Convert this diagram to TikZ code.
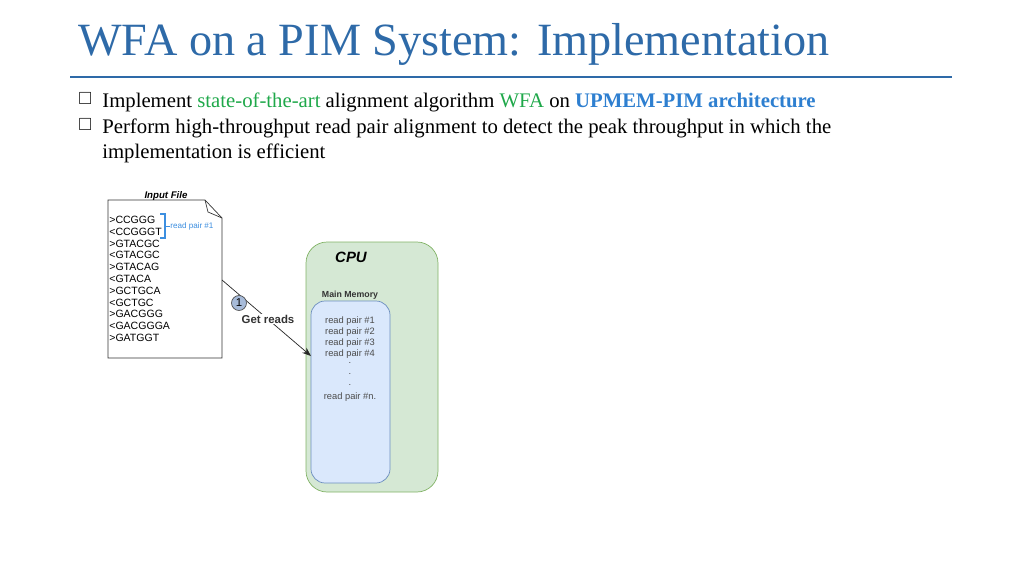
\documentclass[tikz,border=0pt]{standalone}
\usepackage{amssymb}
\usepackage{fontspec}
\setmainfont{Liberation Serif}
\newfontfamily\diagfont{Liberation Sans}
\usetikzlibrary{positioning, arrows.meta}
\definecolor{titleblue}{HTML}{2E6AA8}
\definecolor{sotagreen}{HTML}{1FA84A}
\definecolor{archblue}{HTML}{2E7FD0}
\definecolor{cpufill}{HTML}{D5E8D4}
\definecolor{cpudraw}{HTML}{82B366}
\definecolor{memfill}{HTML}{DAE8FC}
\definecolor{memdraw}{HTML}{6C8EBF}
\definecolor{pairblue}{HTML}{3D8FE0}

\begin{document}
\begin{tikzpicture}[x=0.02cm, y=-0.02cm,
        bullet/.style={anchor=base west, font=\fontsize{11.8}{14}\selectfont, inner sep=0pt},
        seq/.style={anchor=west, font=\diagfont\fontsize{6}{7}\selectfont, inner sep=0pt},
        pair/.style={font=\diagfont\fontsize{5.3}{6}\selectfont, text=black!70, inner sep=0pt}]
      \useasboundingbox (0,0) rectangle (1024,575);
      % Title
      \node[anchor=base west, text=titleblue, font=\fontsize{26.3}{30}\selectfont, inner sep=0pt] (title) at (78,55) {WFA on a PIM System: Implementation};
      \draw[titleblue, line width=1pt] (70,77) -- (952,77);
      % Bullets
      \node[anchor=base west, font=\fontsize{10}{11}\selectfont, inner sep=0pt] (b1) at (78,104) {$\square$};
      \node[anchor=base west, font=\fontsize{10}{11}\selectfont, inner sep=0pt] (b2) at (78,130) {$\square$};
      \node[bullet] (t1) at (102,107) {Implement \textcolor{sotagreen}{state-of-the-art} alignment algorithm \textcolor{sotagreen}{WFA} on \textcolor{archblue}{\textbf{UPMEM-PIM architecture}}};
      \node[bullet] (t2) at (102,133) {Perform high-throughput read pair alignment to detect the peak throughput in which the};
      \node[bullet] (t3) at (102,158) {implementation is efficient};
      % Input file
      \draw[black!80, fill=white] (108,200) -- (205,200) -- (222,218) -- (222,358) -- (108,358) -- cycle;
      \draw[black!80] (205,200) -- (208,212) -- (222,218);
      \node[font=\diagfont\bfseries\itshape\fontsize{5.5}{6}\selectfont, inner sep=0pt] (infile) at (166,196) {Input File};
      \foreach \s [count=\i] in {>CCGGG, <CCGGGT, >GTACGC, <GTACGC, >GTACAG, <GTACA, >GCTGCA, <GCTGC, >GACGGG, <GACGGGA, >GATGGT} {
        \node[seq] (s\i) at (109,208+11.8*\i) {\s};
      }
      \draw[pairblue, thick] (160,214) -- (165,214) -- (165,238) -- (160,238);
      \coordinate (brk) at (165,226);
      \node[pair, font=\diagfont\fontsize{4.6}{6}\selectfont, text=pairblue, anchor=west] (rp) at (170,226) {read pair \#1};
      \draw[pairblue] (brk) -- (rp);
      % CPU
      \draw[cpudraw, fill=cpufill, rounded corners=12] (306,242) rectangle (438,492);
      \node[font=\diagfont\bfseries\itshape\fontsize{8.5}{10}\selectfont, inner sep=0pt] (cpu) at (351,257) {CPU};
      \node[font=\diagfont\bfseries\fontsize{5}{6}\selectfont, text=black!80, inner sep=0pt] (mm) at (350,295) {Main Memory};
      \draw[memdraw, fill=memfill, rounded corners=8] (311,301) rectangle (390,483);
      \foreach \k [count=\i] in {1,2,3,4} {
        \node[pair] (r\i) at (350,310+11*\i) {read pair \#\k};
      }
      \foreach \i in {0,1,2} {
        \node[pair] (d\i) at (350,363+11*\i) {.};
      }
      \node[pair] (rn) at (350,397) {read pair \#n.};
      % Get reads
      \coordinate (from) at (222,280);
      \coordinate (to) at (311,356);
      \draw[-{Stealth[length=5pt]}, black!85] (from) -- (to);
      \node[circle, draw=black!70, fill=memdraw!60, inner sep=0pt, minimum size=8.5pt, font=\diagfont\fontsize{6.5}{7}\selectfont] (one) at (239,303) {1};
      \node[font=\diagfont\bfseries\fontsize{6.5}{7}\selectfont, text=black!80, fill=white, inner sep=0.5pt] (get) at (268,319) {Get reads};
\end{tikzpicture}
\end{document}
